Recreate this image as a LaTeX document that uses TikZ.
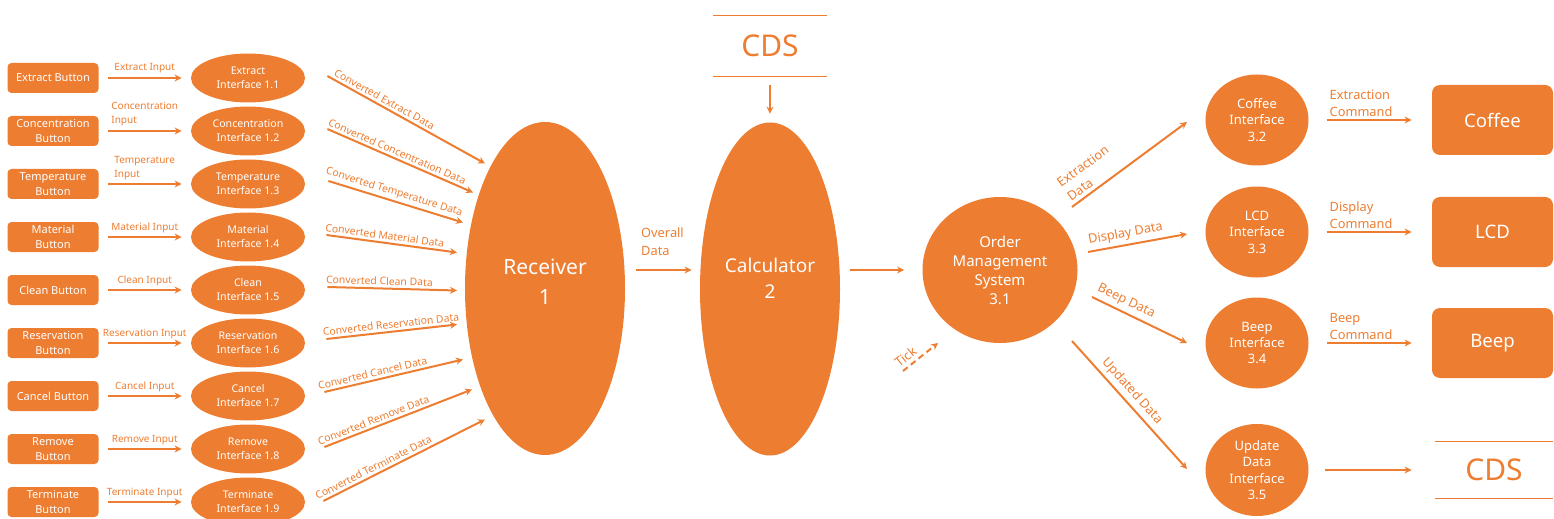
\documentclass[tikz,border=0pt]{standalone}
\usepackage{fontspec}
\setmainfont{Noto Sans}
\usetikzlibrary{shapes.geometric,arrows.meta,calc}
\definecolor{org}{HTML}{ED7D31}
\begin{document}
\begin{tikzpicture}[x=0.5pt,y=-0.5pt]
\tikzset{
 btn/.style={rectangle, rounded corners=2pt, fill=org, text=white, minimum width=45.5pt, minimum height=15pt, inner sep=0pt, align=center, font=\fontsize{5.5}{7.5}\selectfont},
 ifc/.style={ellipse, fill=org, text=white, minimum width=57pt, minimum height=24.5pt, inner sep=0pt, align=center, font=\fontsize{5.3}{7}\selectfont},
 lbl/.style={text=org, inner sep=1.8pt, align=left, font=\fontsize{5}{7}\selectfont},
 clbl/.style={text=org, inner sep=1.2pt, sloped, above, font=\fontsize{5.2}{7}\selectfont},
 lbl2/.style={text=org, inner sep=1.8pt, align=left, font=\fontsize{6.4}{8.5}\selectfont},
 arr/.style={draw=org, line width=1pt, -{Stealth[length=3.5pt,width=3.5pt]}},
 inarr/.style={arr, shorten <=4.5pt, shorten >=4.5pt},
 big/.style={ellipse, fill=org, text=white, inner sep=0pt},
 rc/.style={ellipse, fill=org, text=white, minimum width=51.5pt, minimum height=45.5pt, inner sep=0pt, align=center, font=\fontsize{6.5}{8.2}\selectfont},
 rb/.style={rectangle, rounded corners=4pt, fill=org, text=white, minimum width=60.5pt, minimum height=35pt, font=\fontsize{9.3}{11}\selectfont},
 cds/.style={text=org, inner sep=0pt, font=\fontsize{15}{18}\selectfont},
 cdsline/.style={draw=org, line width=0.8pt},
}
\useasboundingbox (0,0) rectangle (1554,519);

% left buttons
\node[btn] (b1) at (53,78) {Extract Button};
\node[btn] (b2) at (53,131) {Concentration\\Button};
\node[btn] (b3) at (53,184) {Temperature\\Button};
\node[btn] (b4) at (53,237) {Material\\Button};
\node[btn] (b5) at (53,290) {Clean Button};
\node[btn] (b6) at (53,343) {Reservation\\Button};
\node[btn] (b7) at (53,396) {Cancel Button};
\node[btn] (b8) at (53,449) {Remove\\Button};
\node[btn] (b9) at (53,502) {Terminate\\Button};

% interfaces
\node[ifc] (e1) at (248,78) {Extract\\Interface 1.1};
\node[ifc] (e2) at (248,131) {Concentration\\Interface 1.2};
\node[ifc] (e3) at (248,184) {Temperature\\Interface 1.3};
\node[ifc] (e4) at (248,237) {Material\\Interface 1.4};
\node[ifc] (e5) at (248,290) {Clean\\Interface 1.5};
\node[ifc] (e6) at (248,343) {Reservation\\Interface 1.6};
\node[ifc] (e7) at (248,396) {Cancel\\Interface 1.7};
\node[ifc] (e8) at (248,449) {Remove\\Interface 1.8};
\node[ifc] (e9) at (248,502) {Terminate\\Interface 1.9};

\draw[inarr] (b1) -- node[lbl,above]{Extract Input} (e1);
\draw[inarr] (b2) -- node[lbl,above]{Concentration\\Input} (e2);
\draw[inarr] (b3) -- node[lbl,above]{Temperature\\Input} (e3);
\draw[inarr] (b4) -- node[lbl,above]{Material Input} (e4);
\draw[inarr] (b5) -- node[lbl,above]{Clean Input} (e5);
\draw[inarr] (b6) -- node[lbl,above]{Reservation Input} (e6);
\draw[inarr] (b7) -- node[lbl,above]{Cancel Input} (e7);
\draw[inarr] (b8) -- node[lbl,above]{Remove Input} (e8);
\draw[inarr] (b9) -- node[lbl,above]{Terminate Input} (e9);

% receiver and calculator
\node[big, minimum width=80pt, minimum height=166.5pt, font=\fontsize{10.5}{15}\selectfont] (rec) at (545,288.5)
  {\raisebox{2.5pt}[\height][\depth]{\begin{tabular}{@{}c@{}}Receiver\\1\end{tabular}}};
\node[big, minimum width=70pt, minimum height=166.5pt, font=\fontsize{9.5}{13}\selectfont] (calc) at (770,289)
  {\raisebox{4.5pt}[\height][\depth]{\begin{tabular}{@{}c@{}}Calculator\\2\end{tabular}}};

\draw[arr] ([shift={(22,-2)}]e1.east) -- node[clbl,pos=.34]{Converted Extract Data} ([shift={(-60,-125)}]rec.center);
\draw[arr] ([shift={(22,-2)}]e2.east) -- node[clbl,pos=.46]{Converted Concentration Data} ([shift={(-72,-96)}]rec.center);
\draw[arr] ([shift={(23,-3)}]e3.east) -- node[clbl,pos=.47]{Converted Temperature Data} ([shift={(-82,-66)}]rec.center);
\draw[arr] ([shift={(21,-2)}]e4.east) -- node[clbl,pos=.44]{Converted Material Data} ([shift={(-88,-36)}]rec.center);
\draw[arr] ([shift={(22,-3)}]e5.east) -- node[clbl,pos=.4]{Converted Clean Data} ([shift={(-88,2)}]rec.center);
\draw[arr] ([shift={(21,-4)}]e6.east) -- node[clbl,pos=.5]{Converted Reservation Data} ([shift={(-88,36)}]rec.center);
\draw[arr] ([shift={(19,-4)}]e7.east) -- node[clbl,pos=.36]{Converted Cancel Data} ([shift={(-82,71)}]rec.center);
\draw[arr] ([shift={(19,-2)}]e8.east) -- node[clbl,pos=.35]{Converted Remove Data} ([shift={(-73,101)}]rec.center);
\draw[arr] ([shift={(18,-1)}]e9.east) -- node[clbl,pos=.33]{Converted Terminate Data} ([shift={(-60,131)}]rec.center);

% CDS top
\node[cds, minimum width=57pt, minimum height=30pt] (cds1) at (770,46) {CDS};
\draw[cdsline] (cds1.north west) -- (cds1.north east);
\draw[cdsline] (cds1.south west) -- (cds1.south east);
\draw[arr, shorten <=4.5pt, shorten >=4.25pt] (cds1) -- (calc);

% order management
\node[big, align=center, minimum width=77.5pt, minimum height=73pt, font=\fontsize{7.5}{9.5}\selectfont] (oms) at (1000,270) {Order\\Management\\System\\3.1};

\draw[arr, shorten <=5.5pt, shorten >=4pt] (rec.east |- oms.west) -- node[lbl2, above, inner sep=2.5pt, yshift=4pt, font=\fontsize{6.4}{9}\selectfont]{Overall\\Data} (calc.west |- oms.west);
\draw[arr, shorten <=5pt, shorten >=9pt] (calc.east |- oms.west) -- (oms.west);

\coordinate (tk) at (903,371);
\draw[arr, dash pattern=on 3pt off 2pt] (tk) -- node[lbl2, sloped, above, pos=.24]{Tick} ([shift={(-62,73)}]oms.center);

% right interfaces
\node[rc] (cof) at (1257,120) {Coffee\\Interface\\3.2};
\node[rc] (lcd) at (1257,232) {LCD\\Interface\\3.3};
\node[rc] (bep) at (1257,343) {Beep\\Interface\\3.4};
\node[rc, minimum height=46pt] (upd) at (1257,470) {Update\\Data\\Interface\\3.5};

\draw[arr] ([shift={(72,-63)}]oms.center) -- node[lbl2, sloped, above, pos=.23]{Extraction\\Data} ([shift={(-70,2)}]cof.center);
\draw[arr] ([shift={(88,-18)}]oms.center) -- node[lbl2, sloped, above, pos=.4]{Display Data} ([shift={(-70,2)}]lcd.center);
\draw[arr] ([shift={(92,27)}]oms.center) -- node[lbl2, sloped, above, pos=.31]{Beep Data} ([shift={(-70,0)}]bep.center);
\draw[arr] ([shift={(72,71)}]oms.center) -- node[lbl2, sloped, above, pos=.45]{Updated Data} ([shift={(-70,-1)}]upd.center);

% right boxes
\node[rb] (cofb) at (1492.5,120) {Coffee};
\node[rb] (lcdb) at (1492.5,232) {LCD};
\node[rb] (bepb) at (1492.5,343) {Beep};

\draw[arr, shorten <=9pt, shorten >=10pt] (cof) -- node[lbl2, anchor=south west, pos=.145, inner sep=1pt]{Extraction\\Command} (cofb);
\draw[arr, shorten <=9pt, shorten >=10pt] (lcd) -- node[lbl2, anchor=south west, pos=.145, inner sep=1pt]{Display\\Command} (lcdb);
\draw[arr, shorten <=9pt, shorten >=10pt] (bep) -- node[lbl2, anchor=south west, pos=.145, inner sep=1pt]{Beep\\Command} (bepb);

% CDS bottom right
\node[cds, minimum width=59pt, minimum height=28pt] (cds2) at (1494,470) {CDS};
\draw[cdsline] (cds2.north west) -- (cds2.north east);
\draw[cdsline] (cds2.south west) -- (cds2.south east);
\draw[arr, shorten <=8pt, shorten >=11.5pt] (upd) -- (cds2);
\end{tikzpicture}
\end{document}
